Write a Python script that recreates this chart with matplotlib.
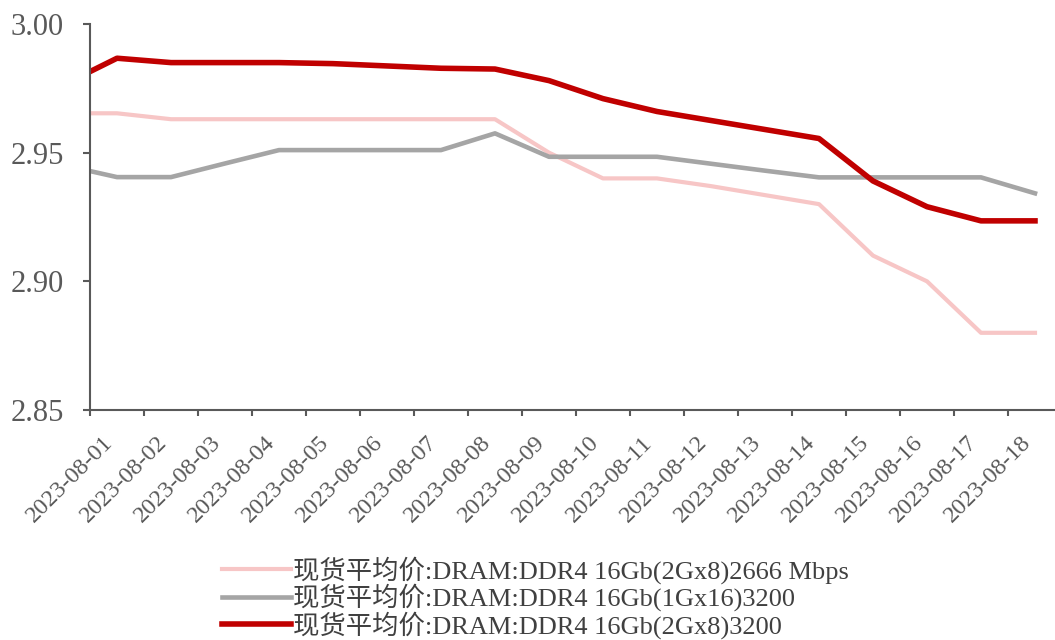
import matplotlib
matplotlib.use("Agg")
import matplotlib.pyplot as plt
from matplotlib.ticker import FixedLocator, FormatStrFormatter

plt.rcParams['font.family'] = ['Liberation Serif', 'Noto Sans CJK SC']

# daily spot prices, first value is 2023-07-31 (sits left of the axis and is clipped)
dates = ['2023-08-%02d' % d for d in range(1, 19)]
day_idx = list(range(-1, 18))

ddr4_2666 = [2.9653, 2.9653, 2.963, 2.963, 2.963, 2.963, 2.963, 2.963, 2.963,
             2.950, 2.940, 2.940, 2.937, 2.9335, 2.930, 2.910, 2.900, 2.880, 2.880]
ddr4_1gx16 = [2.9452, 2.9405, 2.9405, 2.9458, 2.951, 2.951, 2.951, 2.951, 2.9575,
              2.9484, 2.9484, 2.9484, 2.9457, 2.943, 2.9404, 2.9404, 2.9404, 2.9404, 2.9342]
ddr4_2gx8 = [2.9763, 2.9867, 2.985, 2.985, 2.985, 2.9846, 2.9837, 2.9828, 2.9825,
             2.978, 2.971, 2.966, 2.9625, 2.959, 2.9555, 2.939, 2.929, 2.9235, 2.9235]

labels = ['现货平均价:DRAM:DDR4 16Gb(2Gx8)2666 Mbps',
          '现货平均价:DRAM:DDR4 16Gb(1Gx16)3200',
          '现货平均价:DRAM:DDR4 16Gb(2Gx8)3200']
colors = ['#F7C6C6', '#A5A5A5', '#C00000']
widths = [3.0, 3.3, 4.0]

fig = plt.figure(figsize=(10.55, 6.4), dpi=100)
ax = fig.add_axes([90 / 1055, 230 / 640, 972 / 1055, 386 / 640])

for ys, lab, c, w in zip([ddr4_2666, ddr4_1gx16, ddr4_2gx8], labels, colors, widths):
    ax.plot(day_idx, ys, color=c, lw=w, label=lab, solid_joinstyle='round')

ax.set_xlim(-0.5, 17.5)
ax.set_ylim(2.85, 3.00)

axis_col = '#595959'
for s in ['top', 'right']:
    ax.spines[s].set_visible(False)
for s in ['left', 'bottom']:
    ax.spines[s].set_color(axis_col)
    ax.spines[s].set_linewidth(1.5)

# ticks sit between categories, labels in the middle of each category
ax.xaxis.set_major_locator(FixedLocator([i - 0.5 for i in range(19)]))
ax.xaxis.set_minor_locator(FixedLocator(range(18)))
ax.set_xticklabels([], minor=False)
ax.set_xticklabels(dates, minor=True, rotation=45, ha='right',
                   fontsize=17.5, color=axis_col)
ax.tick_params(axis='x', which='major', direction='out', length=4, width=1.5, color=axis_col)
ax.tick_params(axis='x', which='minor', length=0, pad=16)

ax.set_yticks([2.85, 2.90, 2.95, 3.00])
ax.yaxis.set_major_formatter(FormatStrFormatter('%.2f'))
ax.tick_params(axis='y', direction='out', length=5, width=1.5, color=axis_col,
               labelsize=22, labelcolor=axis_col, pad=14)

fig.legend(loc='upper left', bbox_to_anchor=(222 / 1055, 1 - 556 / 640),
           frameon=False, fontsize=19, handlelength=2.6, handletextpad=0.08,
           labelspacing=0.0, borderpad=0, borderaxespad=0, labelcolor='#404040')

fig.savefig('out.png', dpi=100)
